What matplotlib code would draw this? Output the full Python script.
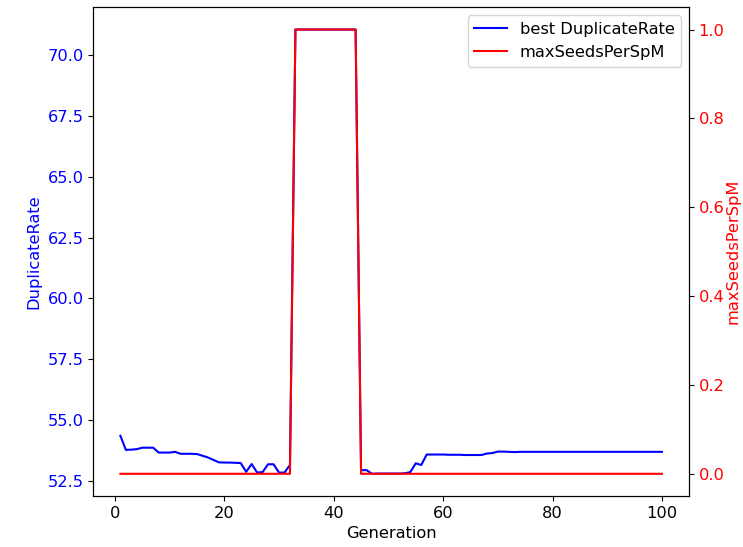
import matplotlib
matplotlib.use("Agg")
import matplotlib.pyplot as plt

plt.rcParams['font.size'] = 11.7

# Data
generations = list(range(1, 101))
best_duplicate_rate = [
    54.37, 53.79, 53.80, 53.82, 53.88, 53.88, 53.88, 53.68, 53.68, 53.68,
    53.71, 53.63, 53.63, 53.63, 53.62, 53.55, 53.48, 53.38, 53.28, 53.27,
    53.27, 53.26, 53.25, 52.89, 53.21, 52.86, 52.88, 53.20, 53.20, 52.86,
    52.86, 53.17, 71.03, 71.03, 71.03, 71.03, 71.03, 71.03, 71.03, 71.03,
    71.03, 71.03, 71.03, 71.03, 52.96, 52.96, 52.81, 52.82, 52.82, 52.82,
    52.82, 52.82, 52.83, 52.88, 53.24, 53.17, 53.60, 53.60, 53.60, 53.60,
    53.59, 53.59, 53.59, 53.58, 53.58, 53.58, 53.58, 53.64, 53.66, 53.72,
    53.72, 53.71, 53.70, 53.71, 53.71, 53.71, 53.71, 53.71, 53.71, 53.71,
    53.71, 53.71, 53.71, 53.71, 53.71, 53.71, 53.71, 53.71, 53.71, 53.71,
    53.71, 53.71, 53.71, 53.71, 53.71, 53.71, 53.71, 53.71, 53.71, 53.71,
]
max_seeds_per_spm = [0] * 32 + [1] * 12 + [0] * 56

fig = plt.figure(figsize=(7.43, 5.47), dpi=100)
ax1 = fig.add_axes([93.3 / 743, 1 - 496 / 547, (689 - 93.3) / 743, (496 - 7.3) / 547])
ax2 = ax1.twinx()

l1, = ax1.plot(generations, best_duplicate_rate, color='blue', label='best DuplicateRate')
l2, = ax2.plot(generations, max_seeds_per_spm, color='red', label='maxSeedsPerSpM')

ax1.set_xlabel('Generation')
ax1.set_ylabel('DuplicateRate', color='blue')
# the label sits against the right edge; keep it just inside
ax2.set_ylabel('maxSeedsPerSpM', color='red', labelpad=1)
ax1.tick_params(axis='y', labelcolor='blue')
ax2.tick_params(axis='y', labelcolor='red')

ax1.legend(handles=[l1, l2], loc='upper right')

fig.savefig('out.png', dpi=100)
